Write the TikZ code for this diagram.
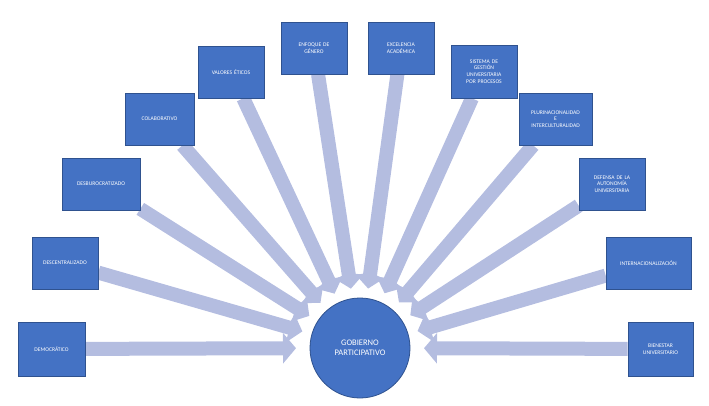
\documentclass[tikz,border=0pt]{standalone}
\usepackage{fontspec}
\setmainfont{Carlito}
\usetikzlibrary{arrows.meta,calc,backgrounds}
\definecolor{boxc}{HTML}{4472C4}
\definecolor{edgec}{HTML}{2F528F}
\definecolor{arrc}{HTML}{B4BDE0}
\tikzset{
 bx/.style={draw=edgec,fill=boxc,text=white,font=\fontsize{5.6}{6.6}\selectfont,align=center,inner sep=1pt,line width=0.6pt},
 ar/.style={arrc,line width=14pt,-{Triangle[width=30pt,length=13pt]}}
}
\begin{document}
\begin{tikzpicture}[x=1pt,y=-1pt]
\useasboundingbox (0,0) rectangle (709,406);
\node[circle,fill=boxc,draw=edgec,line width=0.8pt,minimum size=100pt,text=white,font=\fontsize{8.5}{10}\selectfont,align=center] (c) at (360,348) {GOBIERNO\\PARTICIPATIVO};
\newcommand\mybox[6]{\node[bx,minimum width=#3pt,minimum height=#4pt,text width=#3pt-4pt] (#5) at (#1,#2) {#6};}
\mybox{51.5}{349}{67}{54}{b1}{DEMOCRÁTICO}
\mybox{65}{263}{66}{52}{b2}{DESCENTRALIZADO}
\mybox{101}{184}{78}{52}{b3}{DESBUROCRATIZADO}
\mybox{159.5}{119}{69}{52}{b4}{COLABORATIVO}
\mybox{231}{72}{66}{52}{b5}{VALORES ÉTICOS}
\mybox{314}{48}{66}{52}{b6}{ENFOQUE DE\\GÉNERO}
\mybox{401}{48}{66}{52}{b7}{EXCELENCIA\\ACADÉMICA}
\mybox{484}{71.5}{66}{53}{b8}{SISTEMA DE\\GESTIÓN\\UNIVERSITARIA\\POR PROCESOS}
\mybox{555.5}{119}{73}{52}{b9}{PLURINACIONALIDAD\\E\\INTERCULTURALIDAD}
\mybox{612}{184}{66}{52}{b10}{DEFENSA DE LA\\AUTONOMÍA\\UNIVERSITARIA}
\mybox{648.5}{263}{85}{52}{b11}{INTERNACIONALIZACIÓN}
\mybox{660.5}{349}{65}{54}{b12}{BIENESTAR\\UNIVERSITARIO}
\begin{scope}[on background layer]
\draw[ar] (b1) -- ($(c)!64pt!(b1)$);
\draw[ar] (b12) -- ($(c)!64pt!(b12)$);
\foreach \b in {b2,b3,b4,b5,b6,b7,b8,b9,b10,b11}
  \draw[ar] (\b) -- ($(c)!60pt!(\b)$);
\end{scope}
\end{tikzpicture}
\end{document}
